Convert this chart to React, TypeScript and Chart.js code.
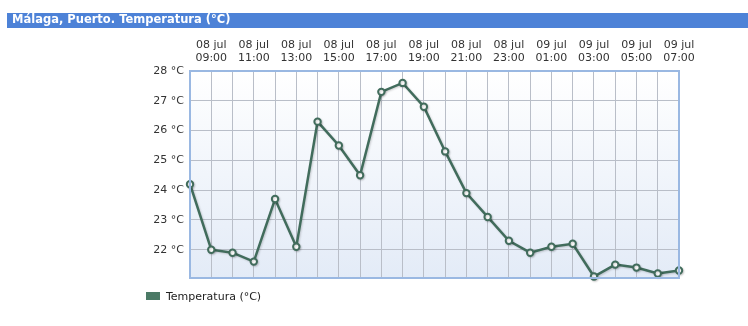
import React, { useEffect, useRef } from "react";
import { Chart, registerables } from "chart.js";

Chart.register(...registerables);

const days = ["08 jul","08 jul","08 jul","08 jul","08 jul","08 jul","08 jul","08 jul","08 jul","08 jul","08 jul","08 jul","08 jul","08 jul","08 jul","08 jul","09 jul","09 jul","09 jul","09 jul","09 jul","09 jul","09 jul","09 jul"];
const hours = ["08:00","09:00","10:00","11:00","12:00","13:00","14:00","15:00","16:00","17:00","18:00","19:00","20:00","21:00","22:00","23:00","00:00","01:00","02:00","03:00","04:00","05:00","06:00","07:00"];
const temperatures = [24.2, 22.0, 21.9, 21.6, 23.7, 22.1, 26.3, 25.5, 24.5, 27.3, 27.6, 26.8, 25.3, 23.9, 23.1, 22.3, 21.9, 22.1, 22.2, 21.1, 21.5, 21.4, 21.2, 21.3];
const yTicks = [22, 23, 24, 25, 26, 27, 28];
const titleText = "Málaga, Puerto. Temperatura (°C)";
const seriesName = "Temperatura (°C)";

const FONT = "'DejaVu Sans', Verdana, sans-serif";
const LINE = "#416c5c";

export default function App() {
  const ref = useRef<HTMLCanvasElement | null>(null);
  useEffect(() => {
    if (!ref.current) return;
    const decor = {
      id: "decor",
      beforeDraw(chart: any) {
        const { ctx, chartArea: a } = chart;
        ctx.save();
        ctx.fillStyle = "#ffffff";
        ctx.fillRect(0, 0, chart.width, chart.height);
        // title bar
        ctx.fillStyle = "#4d82d7";
        ctx.fillRect(7, 13, 741, 15);
        ctx.fillStyle = "#ffffff";
        ctx.font = `bold 11.5px ${FONT}`;
        ctx.textBaseline = "middle";
        ctx.textAlign = "left";
        ctx.fillText(titleText, 12, 20.5);
        // plot background gradient
        const g = ctx.createLinearGradient(0, a.top, 0, a.bottom);
        g.addColorStop(0, "#ffffff");
        g.addColorStop(1, "#e3ebf7");
        ctx.fillStyle = g;
        ctx.fillRect(a.left, a.top, a.right - a.left, a.bottom - a.top);
        // legend
        ctx.fillStyle = "#4b7a66";
        ctx.fillRect(146, 292, 14, 8);
        ctx.fillStyle = "#222222";
        ctx.font = `11px ${FONT}`;
        ctx.fillText(seriesName, 166, 297);
        ctx.restore();
      },
      afterDraw(chart: any) {
        const { ctx, chartArea: a } = chart;
        ctx.save();
        ctx.strokeStyle = "#9ab8e2";
        ctx.lineWidth = 2;
        ctx.strokeRect(a.left, a.top, a.right - a.left, a.bottom - a.top);
        ctx.restore();
      },
      beforeDatasetsDraw(chart: any) {
        const ctx = chart.ctx;
        ctx.save();
        ctx.shadowColor = "rgba(0,0,0,0.18)";
        ctx.shadowOffsetX = 1;
        ctx.shadowOffsetY = 1;
        ctx.shadowBlur = 2;
      },
      afterDatasetsDraw(chart: any) {
        chart.ctx.restore();
      },
    };
    const chart = new Chart(ref.current, {
      type: "line",
      data: {
        labels: hours.map((h, i) => [days[i], h]),
        datasets: [
          {
            label: seriesName,
            data: temperatures,
            borderColor: LINE,
            borderWidth: 2.5,
            pointRadius: 3.2,
            pointBorderWidth: 2,
            pointBackgroundColor: "#ffffff",
            pointBorderColor: LINE,
            tension: 0,
            clip: false as any,
          },
        ],
      },
      options: {
        animation: false,
        responsive: false,
        layout: { padding: { left: 0, right: 69, top: 0, bottom: 48 } },
        plugins: { legend: { display: false }, tooltip: { enabled: false }, title: { display: false } },
        scales: {
          x: {
            position: "top",
            offset: false,
            grid: { color: "#b9bec8", drawTicks: false, lineWidth: 1 },
            border: { display: false },
            ticks: {
              autoSkip: false,
              maxRotation: 0,
              minRotation: 0,
              padding: 6,
              color: "#333333",
              font: { family: FONT, size: 11, lineHeight: 1.2 },
              callback: function (this: any, _v: any, i: number) {
                return i % 2 === 1 ? [days[i], hours[i]] : "";
              },
            },
            afterFit(s: any) {
              s.height = 71;
            },
          },
          y: {
            min: 21.05,
            max: 28,
            grid: { color: "#b9bec8", drawTicks: false, lineWidth: 1 },
            border: { display: false },
            afterBuildTicks(s: any) {
              s.ticks = [{ value: 21.05 }, ...yTicks.map((v) => ({ value: v }))];
            },
            ticks: {
              padding: 6,
              color: "#333333",
              font: { family: FONT, size: 11 },
              callback: (v: any) => (yTicks.includes(v) ? `${v} °C` : ""),
            },
            afterFit(s: any) {
              s.width = 190;
            },
          },
        },
      },
      plugins: [decor],
    });
    return () => chart.destroy();
  }, []);
  return (
    <div style={{ position: "absolute", left: 0, top: 0, width: 748, height: 326 }}>
      <canvas ref={ref} width={748} height={326} />
    </div>
  );
}
